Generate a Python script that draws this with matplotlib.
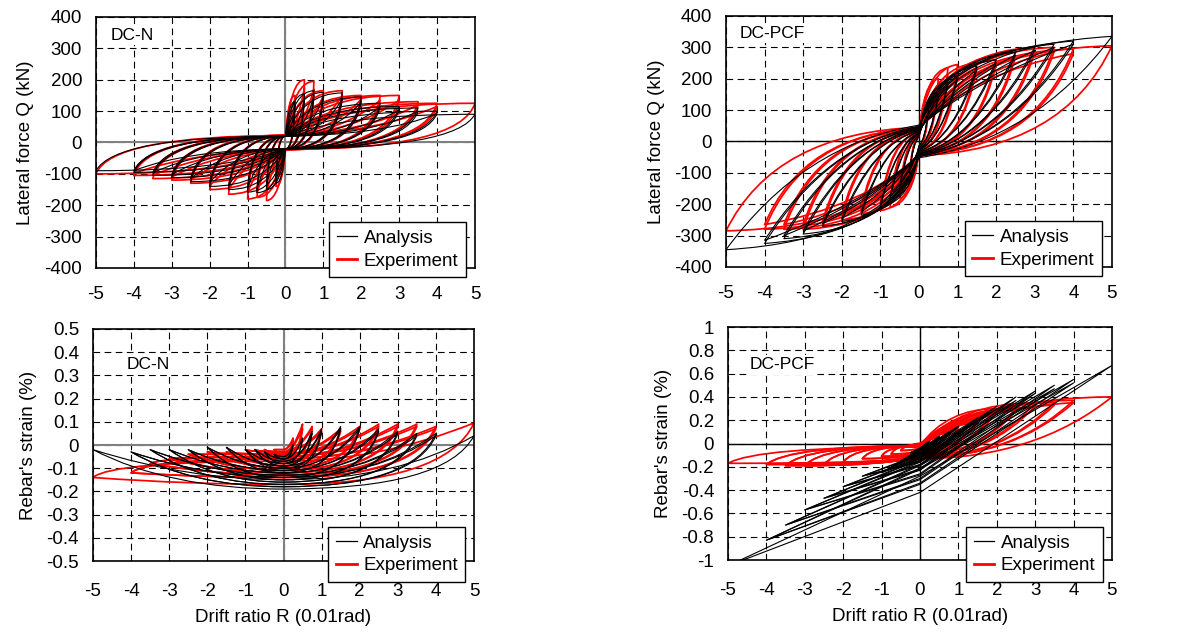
import matplotlib
matplotlib.use("Agg")
import matplotlib.pyplot as plt
from matplotlib.path import Path
from matplotlib.patches import PathPatch
from matplotlib.lines import Line2D

plt.rcParams['font.family'] = ['Liberation Sans', 'DejaVu Sans']
plt.rcParams['axes.unicode_minus'] = False

# drift amplitude of every loading cycle (0.01 rad), two cycles per level
amps = [0.25, 0.25, 0.5, 0.5, 0.75, 0.75, 1, 1, 1.5, 1.5, 2, 2,
        2.5, 2.5, 3, 3, 3.5, 3.5, 4, 4, 5]

# DC-N, lateral force (kN): peak at +R, peak at -R
n_q_ana_pos = [130, 120, 155, 140, 165, 150, 160, 145, 158, 140, 145, 130,
               125, 115, 115, 105, 110, 100, 100, 92, 90]
n_q_ana_neg = [-130, -120, -150, -140, -160, -150, -158, -145, -150, -138, -140, -128,
               -125, -115, -112, -103, -105, -97, -95, -90, -90]
n_q_exp_pos = [150, 135, 200, 175, 195, 170, 165, 150, 165, 150, 150, 138,
               150, 135, 150, 135, 130, 120, 125, 115, 125]
n_q_exp_neg = [-140, -125, -185, -165, -175, -160, -180, -160, -165, -150, -150, -138,
               -130, -120, -120, -110, -115, -105, -105, -98, -100]
# force at zero drift in the pinched part (kN)
n_q_ana_res = [20] * 21
n_q_exp_res = [22] * 21

# DC-PCF, lateral force (kN)
p_q_ana_pos = [100, 95, 150, 140, 190, 180, 210, 200, 240, 228, 260, 250,
               285, 275, 300, 290, 310, 300, 320, 310, 335]
p_q_ana_neg = [-100, -95, -150, -140, -185, -175, -210, -200, -235, -225, -255, -245,
               -270, -262, -295, -285, -310, -300, -325, -315, -345]
p_q_exp_pos = [120, 110, 200, 180, 235, 215, 245, 225, 250, 235, 260, 245,
               285, 270, 300, 285, 300, 285, 295, 280, 305]
p_q_exp_neg = [-130, -120, -180, -165, -210, -195, -220, -205, -230, -215, -250, -235,
               -270, -255, -280, -265, -280, -265, -280, -265, -285]
p_q_ana_res = [15, 15, 20, 20, 25, 25, 28, 28, 32, 32, 36, 36, 40, 40, 42, 42, 45, 45, 48, 48, 52]
p_q_exp_res = [15, 15, 20, 20, 24, 24, 27, 27, 30, 30, 33, 33, 36, 36, 38, 38, 40, 40, 42, 42, 45]

# DC-N, rebar strain (%): at +R, at -R, at R=0 on the way down, at R=0 on the way up
n_s_ana_pos = [0.0, 0.0, 0.03, 0.03, 0.06, 0.05, 0.07, 0.06, 0.08, 0.07, 0.08, 0.07,
               0.07, 0.06, 0.06, 0.05, 0.05, 0.04, 0.05, 0.04, 0.04]
n_s_ana_neg = [-0.04, -0.04, -0.03, -0.03, -0.02, -0.02, -0.02, -0.02, -0.01, -0.01, -0.01, -0.01,
               -0.02, -0.02, -0.02, -0.02, -0.02, -0.02, -0.03, -0.03, -0.02]
n_s_ana_dn = [-0.06, -0.06, -0.08, -0.08, -0.09, -0.09, -0.10, -0.11, -0.12, -0.12, -0.14, -0.14,
              -0.15, -0.15, -0.16, -0.16, -0.17, -0.17, -0.18, -0.18, -0.19]
n_s_ana_up = [-0.05, -0.05, -0.06, -0.06, -0.07, -0.07, -0.08, -0.08, -0.09, -0.09, -0.10, -0.10,
              -0.11, -0.11, -0.12, -0.12, -0.13, -0.13, -0.14, -0.14, -0.15]
n_s_exp_pos = [0.03, 0.02, 0.09, 0.07, 0.08, 0.07, 0.07, 0.06, 0.07, 0.06, 0.08, 0.07,
               0.09, 0.08, 0.09, 0.08, 0.09, 0.08, 0.08, 0.07, 0.095]
n_s_exp_neg = [-0.02, -0.02, -0.02, -0.02, -0.02, -0.02, -0.02, -0.02, -0.03, -0.03, -0.03, -0.03,
               -0.04, -0.04, -0.06, -0.06, -0.08, -0.08, -0.12, -0.12, -0.14]
n_s_exp_dn = [-0.04, -0.04, -0.05, -0.05, -0.06, -0.06, -0.08, -0.08, -0.09, -0.09, -0.10, -0.10,
              -0.11, -0.11, -0.12, -0.12, -0.13, -0.13, -0.14, -0.14, -0.17]
n_s_exp_up = [-0.02, -0.02, -0.03, -0.03, -0.03, -0.03, -0.03, -0.03, -0.04, -0.04, -0.04, -0.04,
              -0.04, -0.04, -0.05, -0.05, -0.05, -0.05, -0.06, -0.06, -0.07]

# DC-PCF, rebar strain (%)
p_s_ana_pos = [0.02, 0.02, 0.06, 0.05, 0.10, 0.09, 0.15, 0.14, 0.22, 0.20, 0.32, 0.30,
               0.40, 0.37, 0.45, 0.43, 0.50, 0.47, 0.55, 0.52, 0.67]
p_s_ana_neg = [-0.08, -0.08, -0.15, -0.15, -0.20, -0.20, -0.25, -0.25, -0.28, -0.28, -0.37, -0.37,
               -0.47, -0.47, -0.57, -0.57, -0.70, -0.70, -0.83, -0.83, -1.05]
p_s_ana_dn = [-0.05, -0.05, -0.07, -0.08, -0.09, -0.10, -0.12, -0.13, -0.15, -0.16, -0.18, -0.19,
              -0.22, -0.23, -0.26, -0.27, -0.30, -0.31, -0.34, -0.35, -0.42]
p_s_ana_up = [-0.04, -0.04, -0.05, -0.05, -0.06, -0.06, -0.07, -0.08, -0.09, -0.10, -0.11, -0.12,
              -0.13, -0.14, -0.15, -0.16, -0.18, -0.19, -0.21, -0.22, -0.28]
p_s_exp_pos = [0.02, 0.02, 0.06, 0.05, 0.10, 0.09, 0.14, 0.12, 0.20, 0.18, 0.30, 0.27,
               0.30, 0.28, 0.35, 0.32, 0.35, 0.33, 0.37, 0.35, 0.40]
p_s_exp_neg = [-0.03, -0.03, -0.06, -0.06, -0.09, -0.09, -0.11, -0.11, -0.13, -0.13, -0.16, -0.16,
               -0.18, -0.18, -0.19, -0.19, -0.19, -0.19, -0.18, -0.18, -0.17]
p_s_exp_dn = [-0.02, -0.02, -0.04, -0.04, -0.06, -0.06, -0.07, -0.07, -0.08, -0.08, -0.09, -0.09,
              -0.10, -0.10, -0.11, -0.11, -0.12, -0.12, -0.12, -0.12, -0.13]
p_s_exp_up = [0.0, 0.0, -0.01, -0.01, -0.01, -0.01, -0.02, -0.02, -0.02, -0.02, -0.02, -0.02,
              -0.02, -0.02, -0.02, -0.02, -0.02, -0.02, -0.02, -0.02, -0.03]

xticks = [-5, -4, -3, -2, -1, 0, 1, 2, 3, 4, 5]
q_ticks = [-400, -300, -200, -100, 0, 100, 200, 300, 400]
n_s_ticks = [-0.5, -0.4, -0.3, -0.2, -0.1, 0, 0.1, 0.2, 0.3, 0.4, 0.5]
p_s_ticks = [-1, -0.8, -0.6, -0.4, -0.2, 0, 0.2, 0.4, 0.6, 0.8, 1]

# control point of each quarter of a loop, as (fraction of R, fraction toward target)
shape_n_q_ana = dict(load=(0.3, 1.0), reload=(0.65, 0.05), unload=(0.9, 1.0),
                     nload=(0.3, 1.0), nreload=(0.65, 0.05), nunload=(0.9, 1.0))
shape_n_q_exp = dict(load=(0.3, 1.0), reload=(0.6, 0.1), unload=(0.92, 1.0),
                     nload=(0.3, 1.0), nreload=(0.6, 0.1), nunload=(0.92, 1.0))
shape_p_q_ana = dict(load=(0.2, 0.9), reload=(0.4, 0.6), unload=(0.6, 0.85),
                     nload=(0.2, 0.9), nreload=(0.4, 0.6), nunload=(0.6, 0.85))
shape_p_q_exp = dict(load=(0.22, 0.95), reload=(0.35, 0.75), unload=(0.75, 0.95),
                     nload=(0.22, 0.95), nreload=(0.35, 0.75), nunload=(0.75, 0.95))
shape_n_s_ana = dict(load=(0.6, 0.0), reload=(0.6, 0.0), unload=(0.85, 1.0),
                     nload=(0.6, 0.0), nreload=(0.6, 0.0), nunload=(0.5, 1.0))
shape_n_s_exp = dict(load=(0.5, 0.0), reload=(0.5, 0.0), unload=(0.85, 1.0),
                     nload=(0.5, 0.0), nreload=(0.5, 0.0), nunload=(0.9, 1.0))
shape_p_s_ana = dict(load=(0.5, 0.5), reload=(0.5, 0.5), unload=(0.5, 0.5),
                     nload=(0.5, 0.5), nreload=(0.5, 0.5), nunload=(0.5, 0.5))
shape_p_s_exp = dict(load=(0.35, 1.0), reload=(0.4, 0.9), unload=(0.6, 1.0),
                     nload=(0.3, 1.0), nreload=(0.3, 1.0), nunload=(0.85, 1.0))


def mix(a, b, t):
    return a + (b - a) * t


def draw_loops(ax, pos, neg, z_up, z_dn, shp, color, lw, z):
    for i, R in enumerate(amps):
        first = i == 0 or amps[i - 1] != R
        lx, ly = shp['load'] if first else shp['reload']
        ux, uy = shp['unload']
        nx, ny = shp['nload'] if first else shp['nreload']
        vx, vy = shp['nunload']
        yp, yn, zu, zd = pos[i], neg[i], z_up[i], z_dn[i]
        verts = [(0, zu),
                 (lx * R, mix(zu, yp, ly)), (R, yp),
                 (ux * R, mix(yp, zd, uy)), (0, zd),
                 (-nx * R, mix(zd, yn, ny)), (-R, yn),
                 (-vx * R, mix(yn, zu, vy)), (0, zu)]
        codes = [Path.MOVETO] + [Path.CURVE3] * 8
        ax.add_patch(PathPatch(Path(verts, codes), fill=False, zorder=z,
                               edgecolor=color, lw=lw, joinstyle='round'))


def style_axes(ax, yticks, zero_color, zero_lw, xpad):
    ax.set_xlim(-5, 5)
    ax.set_ylim(yticks[0], yticks[-1])
    ax.set_xticks(xticks)
    ax.set_xticklabels(['%g' % t for t in xticks])
    ax.set_yticks(yticks)
    ax.set_yticklabels(['%g' % t for t in yticks])
    ax.tick_params(length=0, labelsize=13.5)
    ax.tick_params(axis='x', pad=xpad)
    ax.tick_params(axis='y', pad=10)
    ax.grid(True, color='k', ls=(0, (6, 4)), lw=0.8)
    ax.axhline(0, color=zero_color, lw=zero_lw, zorder=1.5)
    ax.axvline(0, color=zero_color, lw=zero_lw, zorder=1.5)
    for s in ax.spines.values():
        s.set_linewidth(1.2)
        s.set_color('k')
    ax.set_axisbelow(True)


def add_legend(ax, x0, y0):
    handles = [Line2D([], [], color='k', lw=0.9), Line2D([], [], color='red', lw=2)]
    leg = ax.legend(handles, ['Analysis', 'Experiment'], loc='lower left',
                    bbox_to_anchor=(x0, y0), bbox_transform=ax.transAxes,
                    borderaxespad=0, fancybox=False, edgecolor='k', framealpha=1,
                    fontsize=13.5, handlelength=1.1, handletextpad=0.35,
                    borderpad=0.4, labelspacing=0.3)
    leg.get_frame().set_linewidth(1.0)
    leg.set_zorder(10)


def panel_name(ax, x, y, name):
    ax.text(x, y, name, transform=ax.transAxes, fontsize=12.5, va='center', zorder=5,
            bbox=dict(facecolor='white', edgecolor='none', pad=1.5))


fig = plt.figure(figsize=(11.89, 6.34), dpi=100)
axA = fig.add_axes([0.0807, 0.5773, 0.3188, 0.3959])
axB = fig.add_axes([0.6106, 0.5789, 0.3246, 0.3959])
axC = fig.add_axes([0.0782, 0.1151, 0.3205, 0.3660])
axD = fig.add_axes([0.6123, 0.1167, 0.3229, 0.3675])

# DC-N lateral force
style_axes(axA, q_ticks, '#808080', 1.5, 13)
draw_loops(axA, n_q_exp_pos, n_q_exp_neg, n_q_exp_res, [-r for r in n_q_exp_res],
           shape_n_q_exp, 'red', 1.25, 2)
draw_loops(axA, n_q_ana_pos, n_q_ana_neg, n_q_ana_res, [-r for r in n_q_ana_res],
           shape_n_q_ana, 'k', 0.8, 3)
axA.set_ylabel('Lateral force Q (kN)', fontsize=13.5, labelpad=7)
panel_name(axA, 0.04, 0.928, 'DC-N')
add_legend(axA, 0.615, -0.036)

# DC-PCF lateral force
style_axes(axB, q_ticks, 'k', 1.0, 13)
draw_loops(axB, p_q_exp_pos, p_q_exp_neg, p_q_exp_res, [-r for r in p_q_exp_res],
           shape_p_q_exp, 'red', 1.25, 2)
draw_loops(axB, p_q_ana_pos, p_q_ana_neg, p_q_ana_res, [-r for r in p_q_ana_res],
           shape_p_q_ana, 'k', 0.8, 3)
axB.set_ylabel('Lateral force Q (kN)', fontsize=13.5, labelpad=7)
panel_name(axB, 0.036, 0.93, 'DC-PCF')
add_legend(axB, 0.619, -0.036)

# DC-N rebar strain
style_axes(axC, n_s_ticks, '#808080', 1.5, 16)
draw_loops(axC, n_s_exp_pos, n_s_exp_neg, n_s_exp_up, n_s_exp_dn, shape_n_s_exp, 'red', 1.25, 2)
draw_loops(axC, n_s_ana_pos, n_s_ana_neg, n_s_ana_up, n_s_ana_dn, shape_n_s_ana, 'k', 0.8, 3)
axC.set_ylabel("Rebar's strain (%)", fontsize=13.5, labelpad=7)
axC.set_xlabel('Drift ratio R (0.01rad)', fontsize=13.5, labelpad=6)
panel_name(axC, 0.087, 0.845, 'DC-N')
add_legend(axC, 0.618, -0.09)

# DC-PCF rebar strain
style_axes(axD, p_s_ticks, 'k', 1.0, 16)
draw_loops(axD, p_s_exp_pos, p_s_exp_neg, p_s_exp_up, p_s_exp_dn, shape_p_s_exp, 'red', 1.25, 2)
draw_loops(axD, p_s_ana_pos, p_s_ana_neg, p_s_ana_up, p_s_ana_dn, shape_p_s_ana, 'k', 0.8, 3)
axD.set_ylabel("Rebar's strain (%)", fontsize=13.5, labelpad=7)
axD.set_xlabel('Drift ratio R (0.01rad)', fontsize=13.5, labelpad=6)
panel_name(axD, 0.055, 0.837, 'DC-PCF')
add_legend(axD, 0.62, -0.094)

fig.savefig('out.png', dpi=100)
